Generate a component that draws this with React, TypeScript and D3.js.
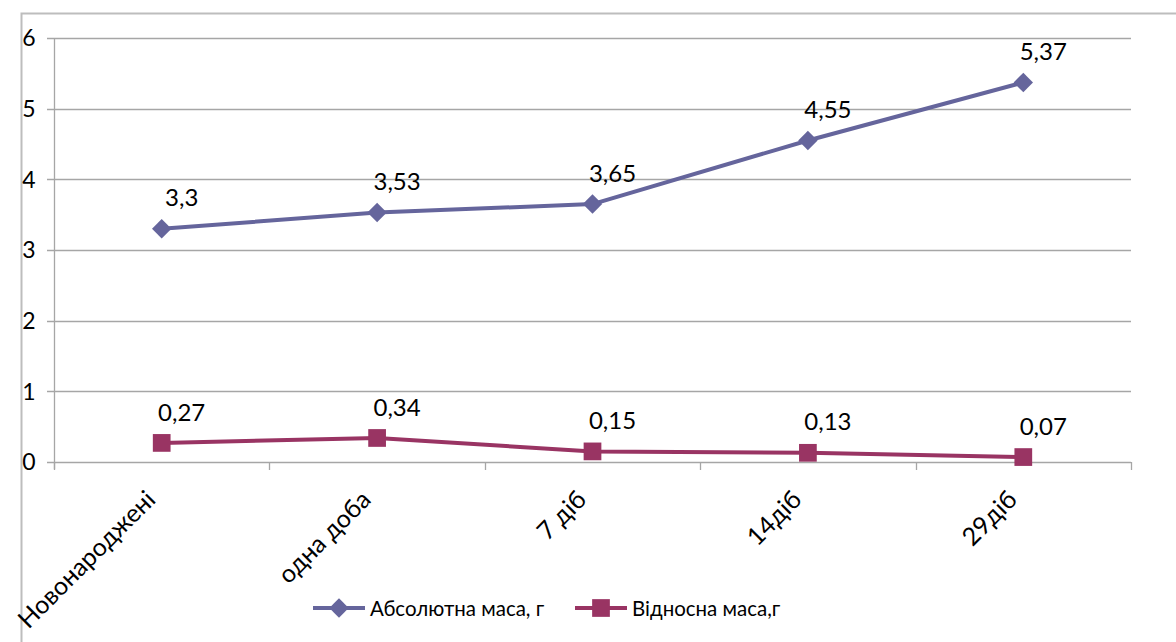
import React, { useEffect, useRef } from 'react';
import * as d3 from 'd3';

const categories = ['Новонароджені', 'одна доба', '7 діб', '14діб', '29діб'];
const absoluteMass = [3.3, 3.53, 3.65, 4.55, 5.37];
const relativeMass = [0.27, 0.34, 0.15, 0.13, 0.07];
const yTicks = [0, 1, 2, 3, 4, 5, 6];
const seriesNames = ['Абсолютна маса, г', 'Відносна маса,г'];

const FONT = 'Lato, "Open Sans", sans-serif';

const App = () => {
  const svgRef = useRef<SVGSVGElement>(null);

  useEffect(() => {
    const root = d3.select(svgRef.current);
    root.selectAll('*').remove();

    const W = 1176;
    const H = 642;
    const left = 54;
    const right = 1131;
    const top = 38;
    const bottom = 462;

    const svg = root.attr('width', W).attr('height', H);

    // outer chart border
    svg.append('path')
      .attr('d', `M21.5,${H} V13.5 H${W}`)
      .attr('fill', 'none')
      .attr('stroke', '#bdbdbd')
      .attr('stroke-width', 2);

    const x = d3.scaleBand().domain(categories).range([left, right]);
    const y = d3.scaleLinear().domain([0, 6]).range([bottom, top]);

    // horizontal gridlines + ticks
    svg.append('g')
      .selectAll('line')
      .data(yTicks)
      .enter()
      .append('line')
      .attr('x1', left - 7)
      .attr('x2', right)
      .attr('y1', d => Math.round(y(d)) + 0.5)
      .attr('y2', d => Math.round(y(d)) + 0.5)
      .attr('stroke', '#a6a6a6')
      .attr('stroke-width', 1.3);

    // y axis line
    svg.append('line')
      .attr('x1', left + 0.5).attr('x2', left + 0.5)
      .attr('y1', top).attr('y2', bottom + 7)
      .attr('stroke', '#a6a6a6').attr('stroke-width', 1.3);

    // category tick marks
    const bounds = categories.map(c => x(c) as number).concat([right]);
    svg.append('g')
      .selectAll('line')
      .data(bounds)
      .enter()
      .append('line')
      .attr('x1', d => Math.round(d) + 0.5)
      .attr('x2', d => Math.round(d) + 0.5)
      .attr('y1', bottom)
      .attr('y2', bottom + 8)
      .attr('stroke', '#a6a6a6')
      .attr('stroke-width', 1.3);

    // y tick labels
    svg.append('g')
      .selectAll('text')
      .data(yTicks)
      .enter()
      .append('text')
      .attr('x', 29)
      .attr('y', d => y(d))
      .attr('dy', '0.36em')
      .attr('text-anchor', 'middle')
      .style('font-family', FONT)
      .style('font-size', '23px')
      .style('fill', '#000')
      .text(d => d);

    // x labels rotated
    svg.append('g')
      .selectAll('text')
      .data(categories)
      .enter()
      .append('text')
      .attr('transform', d => `translate(${(x(d) as number) + x.bandwidth() / 2 - 18},${bottom + 26}) rotate(-45)`)
      .attr('text-anchor', 'end')
      .attr('dy', '0.75em')
      .style('font-family', FONT)
      .style('font-size', '25px')
      .style('fill', '#000')
      .text(d => d);

    const cx = (c: string) => (x(c) as number) + x.bandwidth() / 2;

    const series = [
      { values: absoluteMass, color: '#65659c', marker: 'diamond' },
      { values: relativeMass, color: '#993463', marker: 'square' },
    ];

    const line = d3.line<number>()
      .x((_, i) => cx(categories[i]))
      .y(d => y(d));

    const markerPath = (type: string) =>
      type === 'diamond'
        ? d3.symbol().type(d3.symbolDiamond2).size(240)()
        : d3.symbol().type(d3.symbolSquare2).size(400)();

    series.forEach(s => {
      svg.append('path')
        .datum(s.values)
        .attr('d', line)
        .attr('fill', 'none')
        .attr('stroke', s.color)
        .attr('stroke-width', 4)
        .attr('stroke-linejoin', 'round');

      svg.append('g')
        .selectAll('path')
        .data(s.values)
        .enter()
        .append('path')
        .attr('d', markerPath(s.marker))
        .attr('transform', (d, i) => `translate(${cx(categories[i])},${y(d)})`)
        .attr('fill', s.color);

      svg.append('g')
        .selectAll('text')
        .data(s.values)
        .enter()
        .append('text')
        .attr('x', (d, i) => cx(categories[i]) + 20)
        .attr('y', d => y(d) - 31)
        .attr('dy', '0.36em')
        .attr('text-anchor', 'middle')
        .style('font-family', FONT)
        .style('font-size', '24px')
        .style('fill', '#000')
        .text(d => String(d).replace('.', ','));
    });

    // legend
    const legend = [
      { x0: 313, name: seriesNames[0], s: series[0] },
      { x0: 575, name: seriesNames[1], s: series[1] },
    ];
    const ly = 608;
    legend.forEach(l => {
      svg.append('line')
        .attr('x1', l.x0).attr('x2', l.x0 + 52)
        .attr('y1', ly).attr('y2', ly)
        .attr('stroke', l.s.color).attr('stroke-width', 4);
      svg.append('path')
        .attr('d', markerPath(l.s.marker))
        .attr('transform', `translate(${l.x0 + 26},${ly})`)
        .attr('fill', l.s.color);
      svg.append('text')
        .attr('x', l.x0 + 57)
        .attr('y', ly + 1)
        .attr('dy', '0.36em')
        .style('font-family', FONT)
        .style('font-size', '20.5px')
        .style('fill', '#000')
        .text(l.name);
    });
  }, []);

  return (
    <div style={{ position: 'absolute', left: 0, top: 0 }}>
      <svg ref={svgRef} style={{ display: 'block' }}></svg>
    </div>
  );
};

export default App;
